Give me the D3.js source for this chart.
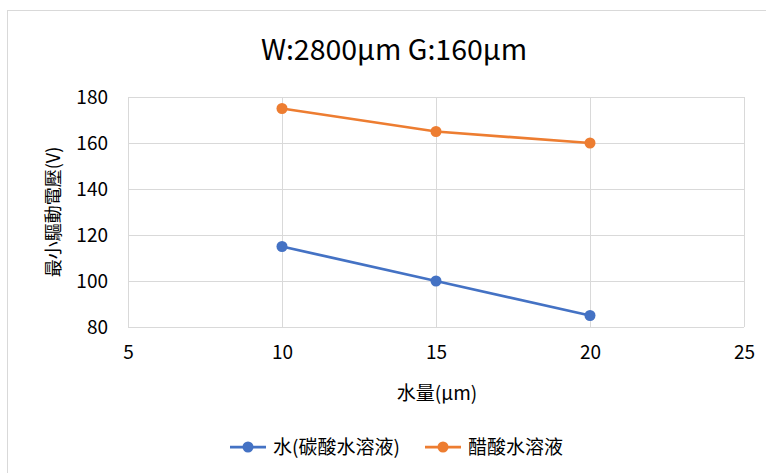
<!DOCTYPE html>
<html>
<head>
<meta charset="utf-8">
<script src="https://cdn.jsdelivr.net/npm/d3@7"></script>
<style>
  html, body { margin: 0; padding: 0; background: #fff; }
  svg { display: block; font-family: "Noto Sans CJK TC", "Noto Sans", sans-serif; }
</style>
</head>
<body>
<svg id="chart" width="766" height="473"></svg>
<script>
const waterAmount = [10, 15, 20];
const carbonatedWater = [115, 100, 85];
const aceticAcid = [175, 165, 160];
const seriesNames = ["水(碳酸水溶液)", "醋酸水溶液"];
const seriesColors = ["#4472C4", "#ED7D31"];
const xTicks = [5, 10, 15, 20, 25];
const yTicks = [80, 100, 120, 140, 160, 180];

const svg = d3.select("#chart");

// chart frame
svg.append("rect")
  .attr("x", 7.5).attr("y", 10.5)
  .attr("width", 800).attr("height", 500)
  .attr("fill", "#fff").attr("stroke", "#d9d9d9");

const plot = { left: 128, right: 744, top: 97, bottom: 327 };
const x = d3.scaleLinear().domain([5, 25]).range([plot.left, plot.right]);
const y = d3.scaleLinear().domain([80, 180]).range([plot.bottom, plot.top]);

// gridlines
const grid = svg.append("g").attr("stroke", "#d9d9d9").attr("stroke-width", 1);
grid.selectAll("line.h").data(yTicks).join("line")
  .attr("x1", plot.left).attr("x2", plot.right)
  .attr("y1", d => Math.round(y(d)) + 0.5).attr("y2", d => Math.round(y(d)) + 0.5);
grid.selectAll("line.v").data(xTicks).join("line")
  .attr("y1", plot.top).attr("y2", plot.bottom)
  .attr("x1", d => Math.round(x(d)) + 0.5).attr("x2", d => Math.round(x(d)) + 0.5);

// axes (labels only)
const xAxis = svg.append("g")
  .attr("transform", `translate(0,${plot.bottom})`)
  .call(d3.axisBottom(x).tickValues(xTicks).tickSize(0).tickPadding(19));
const yAxis = svg.append("g")
  .attr("transform", `translate(${plot.left},0)`)
  .call(d3.axisLeft(y).tickValues(yTicks).tickSize(0).tickPadding(20));
[xAxis, yAxis].forEach(a => {
  a.select(".domain").remove();
  a.selectAll("text").attr("font-size", 19).attr("fill", "#000")
    .attr("font-family", "\"Noto Sans CJK TC\", sans-serif");
});

// title
svg.append("text")
  .attr("x", 394).attr("y", 60)
  .attr("text-anchor", "middle")
  .attr("font-size", 28.5).attr("fill", "#000")
  .text("W:2800μm G:160μm");

// axis titles
svg.append("text")
  .attr("transform", "translate(60,212) rotate(-90)")
  .attr("text-anchor", "middle")
  .attr("font-size", 18).attr("fill", "#000")
  .text("最小驅動電壓(V)");
svg.append("text")
  .attr("x", 437).attr("y", 400)
  .attr("text-anchor", "middle")
  .attr("font-size", 19).attr("fill", "#000")
  .text("水量(μm)");

// series
const series = [carbonatedWater, aceticAcid];
const line = d3.line().x(d => x(d[0])).y(d => y(d[1]));
series.forEach((vals, i) => {
  const pts = waterAmount.map((w, j) => [w, vals[j]]);
  svg.append("path").datum(pts)
    .attr("d", line).attr("fill", "none")
    .attr("stroke", seriesColors[i]).attr("stroke-width", 2.75);
  svg.append("g").selectAll("circle").data(pts).join("circle")
    .attr("cx", d => x(d[0])).attr("cy", d => y(d[1]))
    .attr("r", 5.5).attr("fill", seriesColors[i]);
});

// legend
const legendX = [230, 425];
seriesNames.forEach((name, i) => {
  const g = svg.append("g").attr("transform", `translate(${legendX[i]},447)`);
  g.append("line").attr("x1", 0).attr("x2", 36).attr("y1", 0).attr("y2", 0)
    .attr("stroke", seriesColors[i]).attr("stroke-width", 2.75);
  g.append("circle").attr("cx", 18).attr("cy", 0).attr("r", 5.5).attr("fill", seriesColors[i]);
  g.append("text").attr("x", 43).attr("y", 7)
    .attr("font-size", 19).attr("fill", "#000").text(name);
});
</script>
</body>
</html>
